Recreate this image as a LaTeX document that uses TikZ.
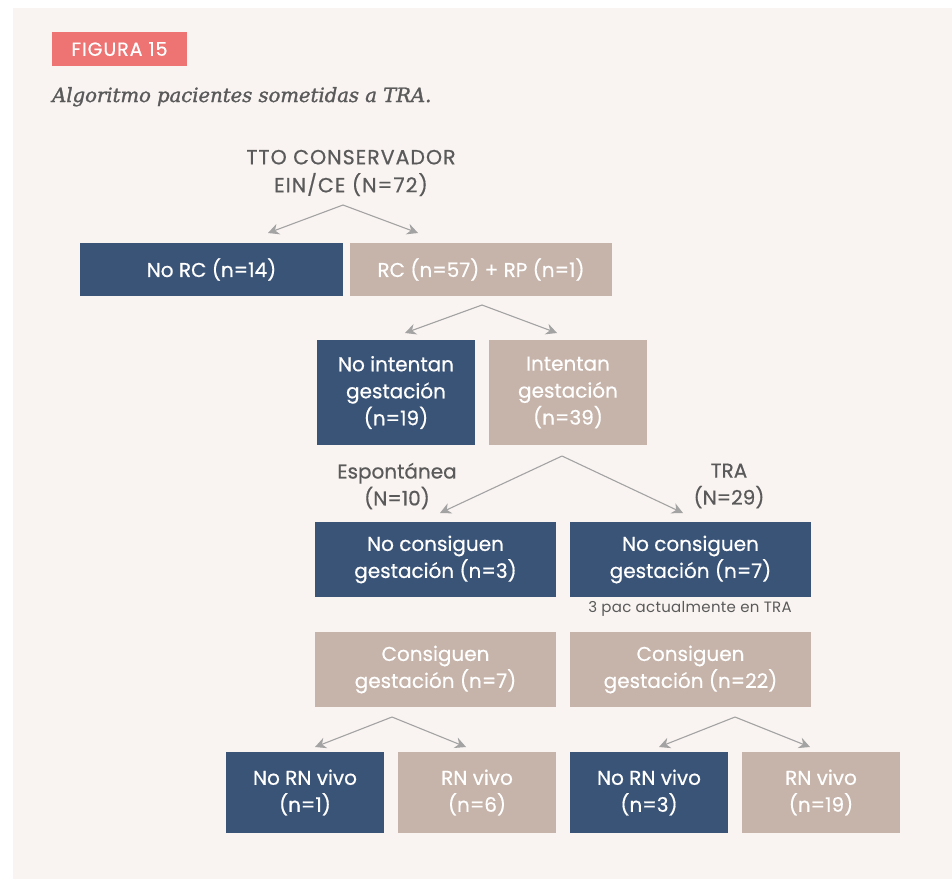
\documentclass[tikz,border=0pt]{standalone}
\usepackage{fontspec}
\setmainfont{Poppins}[FakeBold=0.6]
\newfontfamily\titulofont{DejaVu Serif Italic}[FakeBold=1.5]
\newfontfamily\anchafont{Poppins}[FakeBold=0.6, LetterSpace=5]
\newfontfamily\finafont{Poppins}[LetterSpace=2]
\usetikzlibrary{arrows.meta}
\definecolor{fondo}{HTML}{F9F4F1}
\definecolor{azul}{HTML}{3A5477}
\definecolor{beige}{HTML}{C6B3A9}
\definecolor{salmon}{HTML}{EE7373}
\definecolor{texto}{HTML}{5A5A5A}
\definecolor{flecha}{HTML}{A3A3A3}
\tikzset{b/.style={font=\fontsize{20}{27}\selectfont, text=white, align=center, inner sep=0pt}}
\tikzset{az/.style={b, fill=azul}}
\tikzset{be/.style={b, fill=beige}}
\tikzset{wh/.style 2 args={minimum width=#1pt, minimum height=#2pt}}
\tikzset{t/.style={font=\fontsize{20}{27}\selectfont, text=texto, align=center, inner sep=0pt}}
\tikzset{f/.style={draw=flecha, line width=1.1pt, -{Stealth[length=11pt, width=11pt]}}}

\begin{document}
\begin{tikzpicture}[x=1pt, y=-1pt]
        \useasboundingbox (0,0) rectangle (952,879);
        \fill[fondo] (13,8) rectangle (952,879);
        % cabecera
        \node[fill=salmon, text=white, wh={135}{34}, inner sep=0pt, font=\anchafont\fontsize{19}{19}\selectfont] (fig) at (119.5,49) {FIGURA 15};
        \node[anchor=base west, inner sep=0pt, text=texto, font=\titulofont\fontsize{19.6}{20}\selectfont] (tit) at (52,102) {Algoritmo pacientes sometidas a TRA.};
        % nivel 1
        \node[t, font=\anchafont\fontsize{20.5}{28}\selectfont] (tto) at (351,173) {TTO CONSERVADOR\\EIN/CE (N=72)};
        \coordinate (p1) at (343,205);
        \coordinate (p1a) at (268,233);
        \coordinate (p1b) at (418,233);
        \node[az, wh={263}{53}] (norc) at (211.5,269.5) {No RC (n=14)};
        \node[be, wh={262}{53}] (rc) at (481,269.5) {RC (n=57) + RP (n=1)};
        \draw[f] (p1) -- (p1a);
        \draw[f] (p1) -- (p1b);
        % nivel 2
        \coordinate (p2) at (482,305);
        \coordinate (p2a) at (405,333);
        \coordinate (p2b) at (557,333);
        \draw[f] (p2) -- (p2a);
        \draw[f] (p2) -- (p2b);
        \node[az, wh={158}{105}] (noint) at (396,392.5) {No intentan\\gestación\\(n=19)};
        \node[be, wh={158}{105}] (int) at (568,392.5) {Intentan\\gestación\\(n=39)};
        % nivel 3
        \coordinate (p3) at (562,456);
        \coordinate (p3a) at (440,513);
        \coordinate (p3b) at (683,513);
        \draw[f] (p3) -- (p3a);
        \draw[f] (p3) -- (p3b);
        \node[t] (esp) at (397,486) {Espontánea\\(N=10)};
        \node[t] (tra) at (729,486) {TRA\\(N=29)};
        \node[az, wh={241}{75}] (nocons1) at (435.5,559.5) {No consiguen\\gestación (n=3)};
        \node[az, wh={241}{75}] (nocons2) at (690.5,559.5) {No consiguen\\gestación (n=7)};
        \node[text=texto, inner sep=0pt, font=\finafont\fontsize{15}{15}\selectfont] (pac) at (690,609) {3 pac actualmente en TRA};
        \node[be, wh={241}{75}] (cons1) at (435.5,669.5) {Consiguen\\gestación (n=7)};
        \node[be, wh={241}{75}] (cons2) at (690.5,669.5) {Consiguen\\gestación (n=22)};
        % nivel 4
        \coordinate (p4) at (392,717);
        \coordinate (p4a) at (315,747);
        \coordinate (p4b) at (466,747);
        \coordinate (p5) at (735,717);
        \coordinate (p5a) at (659,747);
        \coordinate (p5b) at (810,747);
        \draw[f] (p4) -- (p4a);
        \draw[f] (p4) -- (p4b);
        \draw[f] (p5) -- (p5a);
        \draw[f] (p5) -- (p5b);
        \node[az, wh={158}{81}] (norn1) at (305,792.5) {No RN vivo\\(n=1)};
        \node[be, wh={158}{81}] (rn1) at (477,792.5) {RN vivo\\(n=6)};
        \node[az, wh={158}{81}] (norn2) at (649,792.5) {No RN vivo\\(n=3)};
        \node[be, wh={158}{81}] (rn2) at (821,792.5) {RN vivo\\(n=19)};
\end{tikzpicture}
\end{document}
